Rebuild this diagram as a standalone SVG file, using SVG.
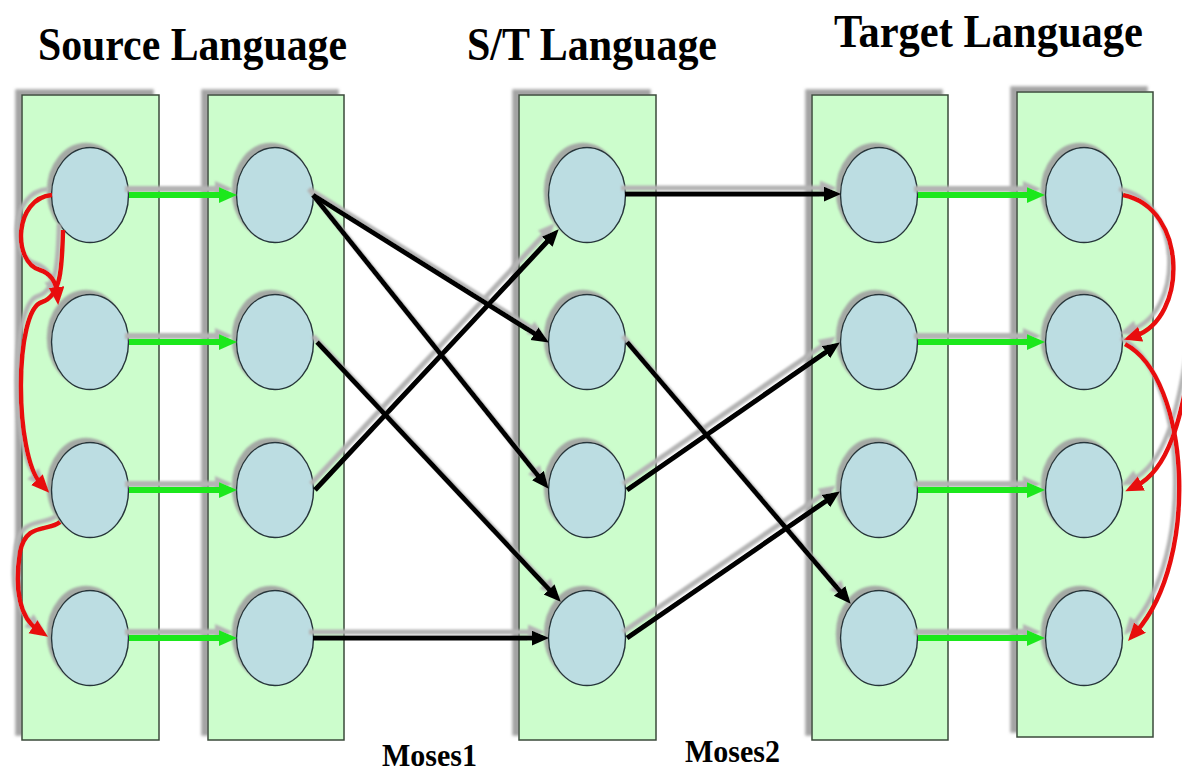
<svg xmlns="http://www.w3.org/2000/svg" width="1182" height="771" viewBox="0 0 1182 771">
<style>
.col{fill:#ccfdcc;stroke:#3a4a3a;stroke-width:1.5}
.nd{fill:#bcdde2;stroke:#26363a;stroke-width:1.4}
.t{font-family:"Liberation Serif","Times New Roman",serif;font-weight:bold;fill:#000}
.g{stroke:#1ee81e;stroke-width:6;fill:none;marker-end:url(#gh)}
.b{stroke:#000;stroke-width:5;fill:none;marker-end:url(#bh)}
.r{stroke:#e81010;stroke-width:4.5;fill:none;marker-end:url(#rh)}
</style>
<defs>
<filter id="shR" x="-20%" y="-5%" width="140%" height="110%"><feDropShadow dx="-6" dy="-5" stdDeviation="1.5" flood-color="#9a9a9a" flood-opacity="0.9"/></filter>
<filter id="shC" x="-20%" y="-20%" width="140%" height="140%"><feDropShadow dx="-4" dy="-4" stdDeviation="1" flood-color="#a0a0a0" flood-opacity="0.9"/></filter>
<filter id="shL" x="-10%" y="-10%" width="120%" height="120%"><feDropShadow dx="-4" dy="-6" stdDeviation="0.8" flood-color="#b4b4b4" flood-opacity="1"/></filter>
<marker id="gh" markerUnits="userSpaceOnUse" markerWidth="20" markerHeight="18" refX="8" refY="8" orient="auto"><path d="M0,0 L18,8 L0,16 z" fill="#1ee81e"/></marker>
<marker id="bh" markerUnits="userSpaceOnUse" markerWidth="18" markerHeight="16" refX="6" refY="7.5" orient="auto"><path d="M0,0 L17,7.5 L0,15 z" fill="#000"/></marker>
<marker id="rh" markerUnits="userSpaceOnUse" markerWidth="20" markerHeight="18" refX="6" refY="8" orient="auto"><path d="M0,0 L18,8 L0,16 z" fill="#e81010"/></marker>
</defs>
<rect width="1182" height="771" fill="#fff"/>

<g id="titles">
<text class="t" x="38" y="60" font-size="46" textLength="309" lengthAdjust="spacingAndGlyphs">Source Language</text>
<text class="t" x="467" y="60" font-size="46" textLength="250" lengthAdjust="spacingAndGlyphs">S/T Language</text>
<text class="t" x="834" y="47" font-size="46" textLength="309" lengthAdjust="spacingAndGlyphs">Target Language</text>
<text class="t" x="382" y="766" font-size="32" textLength="95" lengthAdjust="spacingAndGlyphs">Moses1</text>
<text class="t" x="685" y="762" font-size="32" textLength="95" lengthAdjust="spacingAndGlyphs">Moses2</text>
</g>

<g id="columns" filter="url(#shR)">
<rect id="col-source-1" class="col" x="22" y="95" width="137" height="645"/>
<rect id="col-source-2" class="col" x="208" y="95" width="136" height="645"/>
<rect id="col-st" class="col" x="519" y="95" width="137" height="645"/>
<rect id="col-target-1" class="col" x="812" y="95" width="136" height="645"/>
<rect id="col-target-2" class="col" x="1017" y="92" width="136" height="645"/>
</g>

<g id="nodes" filter="url(#shC)">
<g id="s1-1"><ellipse class="nd" cx="90" cy="195" rx="38.5" ry="47.5"/></g>
<g id="s1-2"><ellipse class="nd" cx="90" cy="342" rx="38.5" ry="47.5"/></g>
<g id="s1-3"><ellipse class="nd" cx="90" cy="490" rx="38.5" ry="47.5"/></g>
<g id="s1-4"><ellipse class="nd" cx="90" cy="638" rx="38.5" ry="47.5"/></g>
<g id="s2-1"><ellipse class="nd" cx="275" cy="195" rx="38.5" ry="47.5"/></g>
<g id="s2-2"><ellipse class="nd" cx="275" cy="342" rx="38.5" ry="47.5"/></g>
<g id="s2-3"><ellipse class="nd" cx="275" cy="490" rx="38.5" ry="47.5"/></g>
<g id="s2-4"><ellipse class="nd" cx="275" cy="638" rx="38.5" ry="47.5"/></g>
<g id="st-1"><ellipse class="nd" cx="587" cy="195" rx="38.5" ry="47.5"/></g>
<g id="st-2"><ellipse class="nd" cx="587" cy="342" rx="38.5" ry="47.5"/></g>
<g id="st-3"><ellipse class="nd" cx="587" cy="490" rx="38.5" ry="47.5"/></g>
<g id="st-4"><ellipse class="nd" cx="587" cy="638" rx="38.5" ry="47.5"/></g>
<g id="t1-1"><ellipse class="nd" cx="879" cy="195" rx="38.5" ry="47.5"/></g>
<g id="t1-2"><ellipse class="nd" cx="879" cy="342" rx="38.5" ry="47.5"/></g>
<g id="t1-3"><ellipse class="nd" cx="879" cy="490" rx="38.5" ry="47.5"/></g>
<g id="t1-4"><ellipse class="nd" cx="879" cy="638" rx="38.5" ry="47.5"/></g>
<g id="t2-1"><ellipse class="nd" cx="1084" cy="195" rx="38.5" ry="47.5"/></g>
<g id="t2-2"><ellipse class="nd" cx="1084" cy="342" rx="38.5" ry="47.5"/></g>
<g id="t2-3"><ellipse class="nd" cx="1084" cy="490" rx="38.5" ry="47.5"/></g>
<g id="t2-4"><ellipse class="nd" cx="1084" cy="638" rx="38.5" ry="47.5"/></g>
</g>

<g id="connectors" filter="url(#shL)">
<path class="g" d="M129,195 H227"/>
<path class="g" d="M129,342 H227"/>
<path class="g" d="M129,490 H227"/>
<path class="g" d="M129,638 H227"/>
<path class="g" d="M918,195 H1035"/>
<path class="g" d="M918,342 H1035"/>
<path class="g" d="M918,490 H1035"/>
<path class="g" d="M918,638 H1035"/>

<path class="b" d="M313,195 L539.5,336.7"/>
<path class="b" d="M313,195 L541.7,480.2"/>
<path class="b" d="M317,342 L553.2,593.7"/>
<path class="b" d="M315,490 L551.2,237.3"/>
<path class="b" d="M313,638 L538,638"/>
<path class="b" d="M625,194 L830,194"/>
<path class="b" d="M627,342 L843.5,595.4"/>
<path class="b" d="M627,490 L830.8,348.7"/>
<path class="b" d="M627,638 L830.8,497.7"/>

<path class="r" d="M52,195 C14,198 12,262 40,270 C52,274 56,283 57,293"/>
<path class="r" d="M63,230 C62,268 61,296 42,302 C14,310 14,455 41,484"/>
<path class="r" d="M60,522 C48,532 26,522 20,552 C14,590 20,618 38,630"/>
<path class="r" d="M1123,195 C1188,208 1188,318 1135,336"/>
<path class="r" d="M1125,344 C1190,378 1200,560 1136,632"/>
<path class="r" d="M1192,350 C1182,420 1168,470 1136,486"/>
</g>
</svg>
